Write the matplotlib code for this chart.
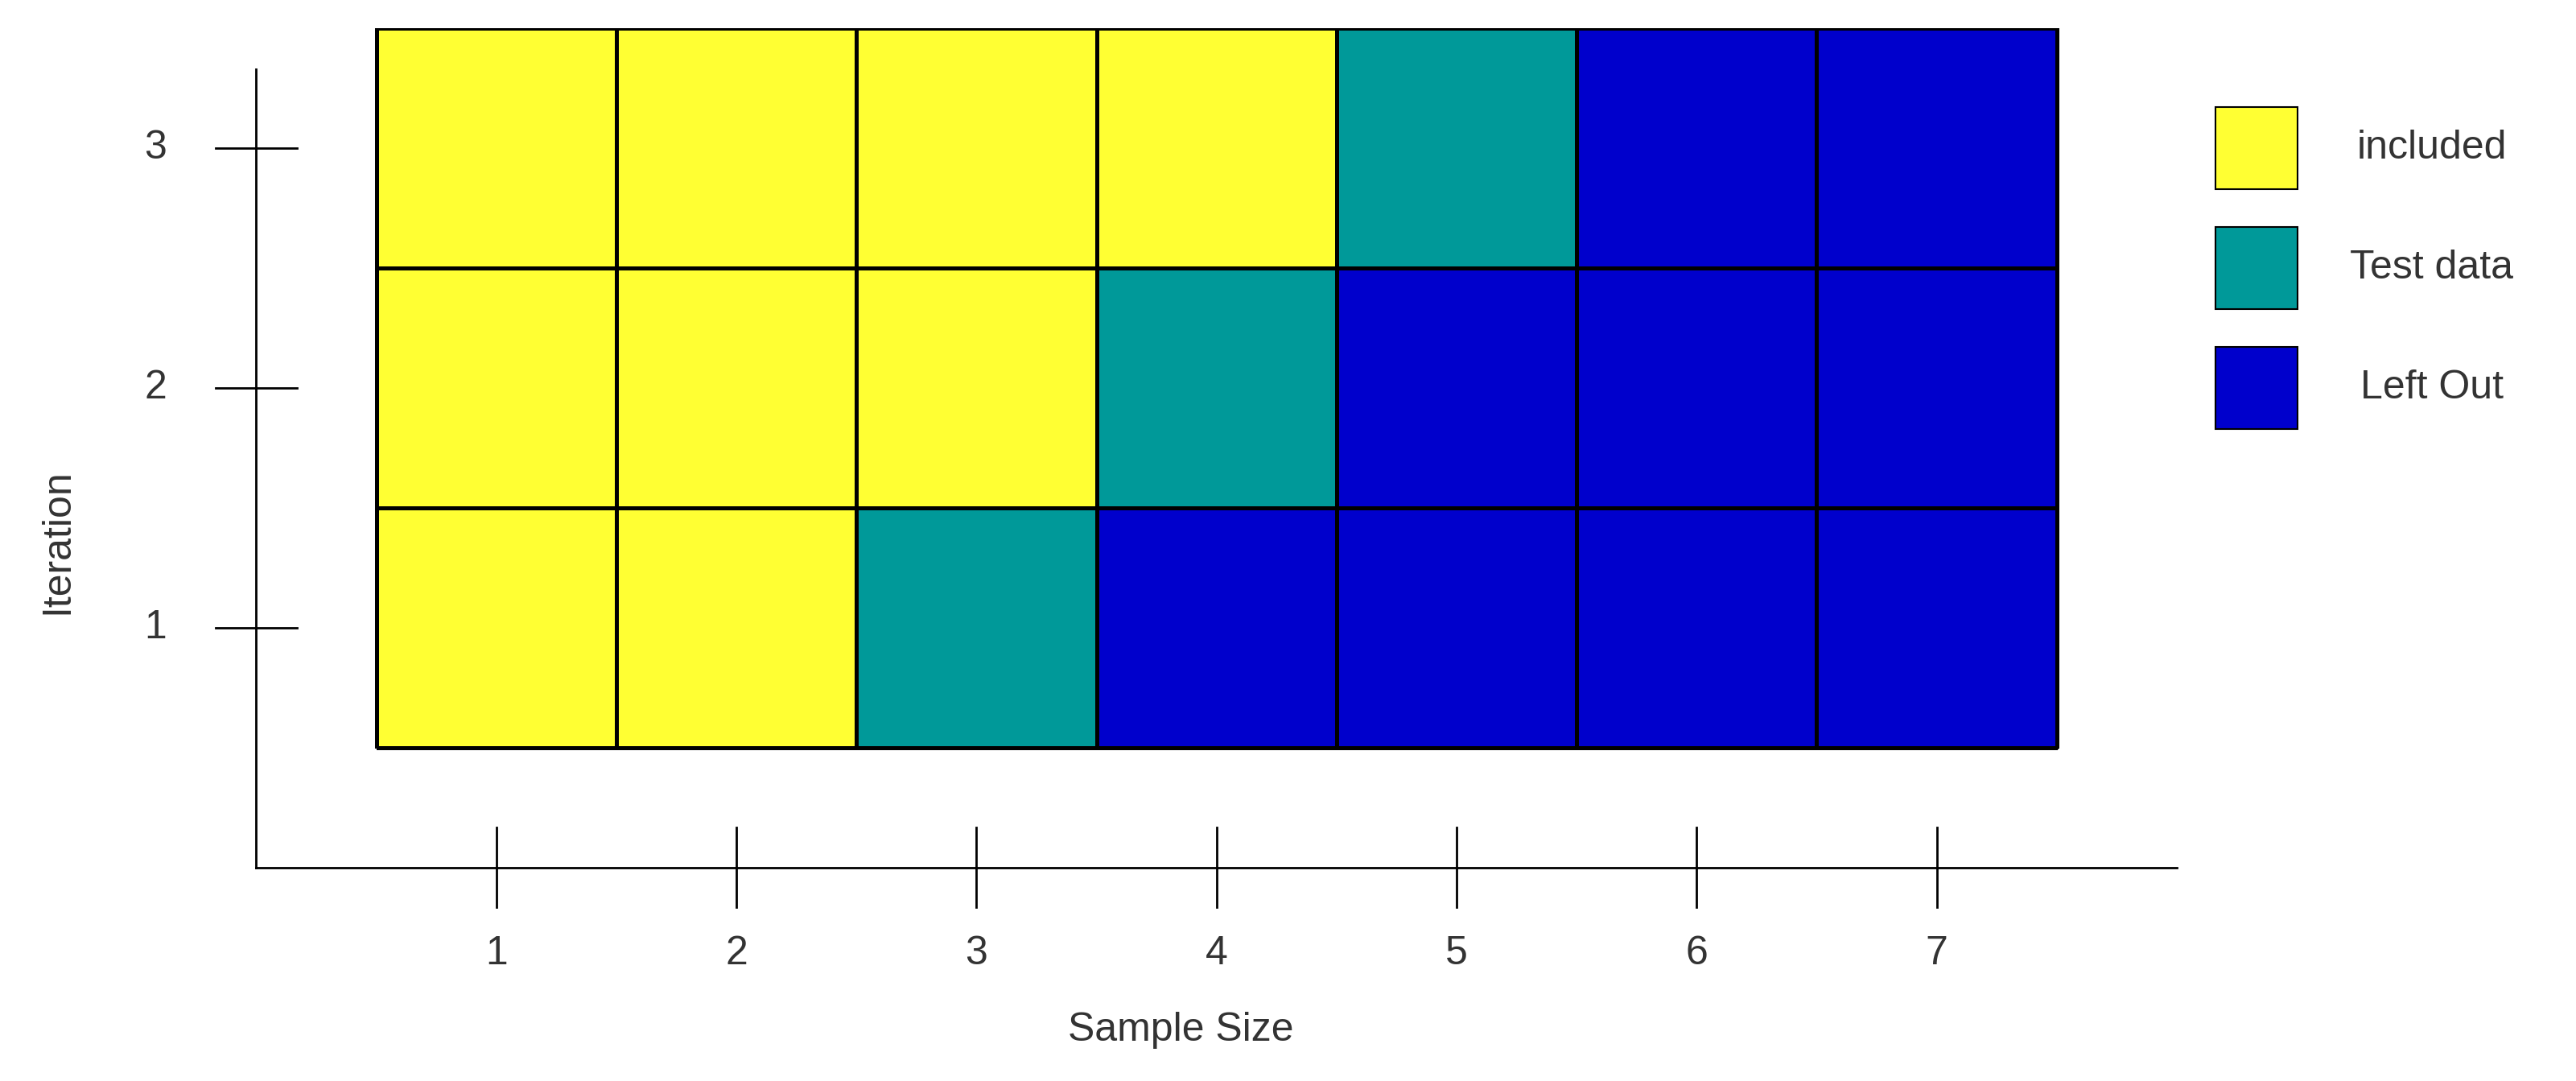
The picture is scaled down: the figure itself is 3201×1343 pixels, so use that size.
import numpy as np
import matplotlib.pyplot as plt
from matplotlib.colors import ListedColormap
from matplotlib.patches import Rectangle

plt.rcParams['font.family'] = ['Liberation Sans', 'DejaVu Sans']

# Data
sample_sizes = [1, 2, 3, 4, 5, 6, 7]
iterations = [1, 2, 3]
# 0 = included, 1 = test data, 2 = left out
status_iter1 = [0, 0, 1, 2, 2, 2, 2]
status_iter2 = [0, 0, 0, 1, 2, 2, 2]
status_iter3 = [0, 0, 0, 0, 1, 2, 2]
legend_labels = ["included", "Test data", "Left Out"]
colors = ["#FFFF33", "#009999", "#0000CC"]

fig = plt.figure(figsize=(32.01, 13.43), dpi=100)
ax = fig.add_axes([0.0995, 0.1976, 0.7455, 0.7764])
ax.set_xlim(0, 8)
ax.set_ylim(0, 3.5)
ax.axis("off")

grid = np.array([status_iter1, status_iter2, status_iter3])
xe = np.arange(len(sample_sizes) + 1) + 0.5
ye = np.arange(len(iterations) + 1) + 0.5
ax.pcolormesh(xe, ye, grid, cmap=ListedColormap(colors), vmin=-0.5, vmax=2.5,
              edgecolors="black", linewidth=2.2)

txt = "#333333"
fs = 36
# axes lines
ax.plot([0, 8], [0, 0], color="black", lw=2, clip_on=False)
ax.plot([0, 0], [0, 3.33], color="black", lw=2, clip_on=False)
for x in sample_sizes:
    ax.plot([x, x], [-0.165, 0.165], color="black", lw=2, clip_on=False)
    ax.text(x, -0.36, str(x), ha="center", va="center", fontsize=fs, color=txt)
for y in iterations:
    ax.plot([-0.17, 0.17], [y, y], color="black", lw=2, clip_on=False)
    ax.text(-0.42, y, str(y), ha="center", va="center", fontsize=fs, color=txt)
ax.text(3.85, -0.68, "Sample Size", ha="center", va="center", fontsize=fs, color=txt)
ax.text(-0.83, 1.36, "Iteration", ha="center", va="center", fontsize=fs,
        color=txt, rotation=90)

# legend
box_bottoms = [0.825, 0.714, 0.603]
for lab, col, yb in zip(legend_labels, colors, box_bottoms):
    fig.patches.append(Rectangle((0.860, yb), 0.0319, 0.076, facecolor=col,
                                 edgecolor="black", lw=1.5,
                                 transform=fig.transFigure))
    fig.text(0.944, yb + 0.038, lab, ha="center", va="center", fontsize=fs, color=txt)

fig.savefig("out.png", dpi=100, facecolor="white")
